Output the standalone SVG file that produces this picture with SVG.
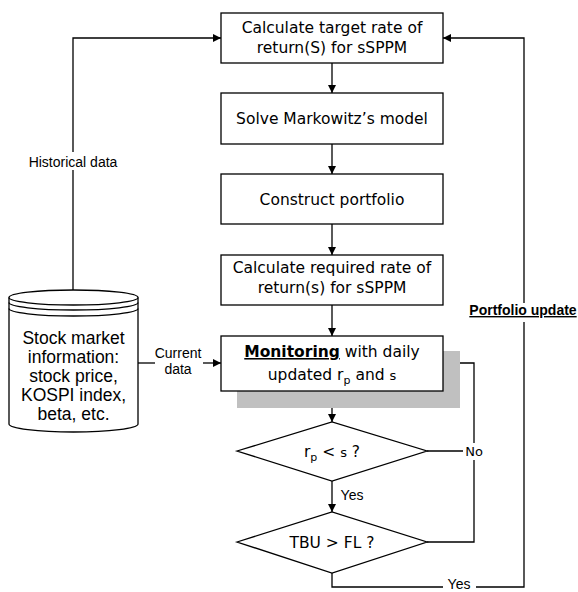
<svg xmlns="http://www.w3.org/2000/svg" width="578" height="592" viewBox="0 0 578 592">
<defs>
<marker id="ah" viewBox="0 0 10 10" refX="10" refY="5" markerWidth="8" markerHeight="8" markerUnits="userSpaceOnUse" orient="auto">
<path d="M0,0 L10,5 L0,10 z" fill="#000"/>
</marker>
<style>
.box{fill:#fff;stroke:#000;stroke-width:1.3}
.bt{font-family:"DejaVu Sans",Verdana,sans-serif;font-size:15.5px;fill:#000;text-anchor:middle}
.lt{font-family:"Liberation Sans",Arial,sans-serif;font-size:14px;fill:#000;text-anchor:middle}
.ct{font-family:"Liberation Sans",Arial,sans-serif;font-size:17.5px;fill:#000;text-anchor:middle}
.ln{fill:none;stroke:#000;stroke-width:1.3}
.arr{marker-end:url(#ah)}
</style>
</defs>
<rect width="578" height="592" fill="#fff"/>
<g id="connectors">
<path class="ln arr" d="M332,63 V93"/>
<path class="ln arr" d="M332,144 V174"/>
<path class="ln arr" d="M332,224 V255"/>
<path class="ln arr" d="M332,305 V336"/>
<path class="ln arr" d="M332,391 V422"/>
<path class="ln arr" d="M332,481 V512"/>
<path class="ln" d="M427,451 H463"/>
<path class="ln arr" d="M474,443 V363 H443"/>
<path class="ln" d="M474,460 V542 H427"/>
<path class="ln" d="M332,573 V587 H443"/>
<path class="ln" d="M476,587 H524 V322"/>
<path class="ln arr" d="M524,303 V38 H443"/>
<path class="ln" d="M73,290 V170"/>
<path class="ln arr" d="M73,152 V38 H221"/>
<path class="ln" d="M137,363 H155"/>
<path class="ln arr" d="M203,363 H221"/>
<text class="lt" x="73" y="167">Historical data</text>
<text class="lt" x="178" y="358">Current</text>
<text class="lt" x="178" y="374">data</text>
<text class="lt" x="352" y="500">Yes</text>
<text x="474" y="456" style="font-family:'DejaVu Sans',sans-serif;font-size:13px;text-anchor:middle">No</text>
<text class="lt" x="459" y="589" font-size="13">Yes</text>
<text x="523" y="315" style="font-family:'Liberation Sans',Arial,sans-serif;font-size:14px;font-weight:bold;text-anchor:middle;text-decoration:underline">Portfolio update</text>
</g>
<g id="n-target">
<rect class="box" x="221" y="13" width="222" height="50"/>
<text class="bt" x="332" y="33">Calculate target rate of</text>
<text class="bt" x="332" y="53">return(S) for sSPPM</text>
</g>
<g id="n-markowitz">
<rect class="box" x="221" y="93" width="222" height="51"/>
<text class="bt" x="332" y="124">Solve Markowitz’s model</text>
</g>
<g id="n-construct">
<rect class="box" x="221" y="174" width="222" height="50"/>
<text class="bt" x="332" y="205">Construct portfolio</text>
</g>
<g id="n-required">
<rect class="box" x="221" y="255" width="222" height="50"/>
<text class="bt" x="332" y="273">Calculate required rate of</text>
<text class="bt" x="332" y="293">return(s) for sSPPM</text>
</g>
<g id="n-monitoring">
<rect x="237" y="351" width="223" height="57" fill="#c0c0c0"/>
<rect class="box" x="221" y="336" width="222" height="55"/>
<text class="bt" x="332" y="357"><tspan font-weight="bold" text-decoration="underline">Monitoring</tspan> with daily</text>
<text class="bt" x="332" y="380">updated r<tspan font-size="11" dy="4">p</tspan><tspan dy="-4"> and </tspan><tspan font-size="13">s</tspan></text>
</g>
<g id="n-rp">
<polygon class="box" points="237,451 332,422 427,451 332,481"/>
<text class="bt" x="332" y="457">r<tspan font-size="11" dy="4">p</tspan><tspan dy="-4"> &lt; </tspan><tspan font-size="13">s</tspan> ?</text>
</g>
<g id="n-tbu">
<polygon class="box" points="237,542 332,512 427,542 332,573"/>
<text class="bt" x="332" y="548">TBU &gt; FL ?</text>
</g>
<g id="n-stock">
<path class="box" d="M9,297.5 A64.5,7.5 0 0 1 138,297.5 V424 A64.5,8 0 0 1 9,424 Z"/>
<path class="ln" d="M9,297.5 A64.5,7.5 0 0 0 138,297.5 M9,302.5 A64.5,7.5 0 0 0 138,302.5 M9,308.5 A64.5,7.5 0 0 0 138,308.5"/>
<text class="ct" x="73.5" y="344">Stock market</text>
<text class="ct" x="73.5" y="363">information:</text>
<text class="ct" x="73.5" y="382">stock price,</text>
<text class="ct" x="73.5" y="401">KOSPI index,</text>
<text class="ct" x="73.5" y="420">beta, etc.</text>
</g>
</svg>
